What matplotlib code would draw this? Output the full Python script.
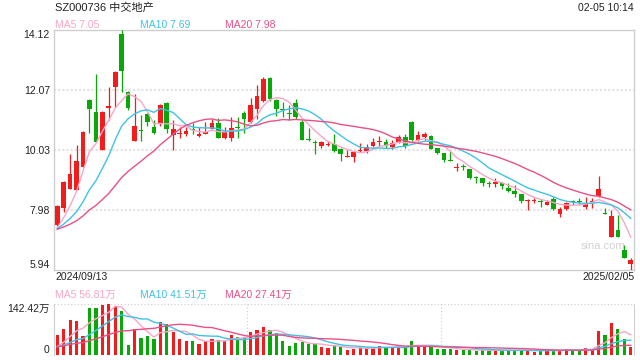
import matplotlib
matplotlib.use('Agg')
import matplotlib.pyplot as plt
import numpy as np
import pandas as pd

plt.rcParams['font.family'] = ['Liberation Sans', 'Noto Sans CJK SC']

# daily OHLC, 2024/09/13 .. 2025/02/05
opens = [7.45, 8.04, 8.70, 8.67, 9.43, 11.72, 11.31, 10.03, 11.45, 12.18,
         13.97, 11.98, 10.34, 10.70, 11.25, 10.79, 10.91, 11.62, 10.52, 10.56,
         10.58, 10.75, 10.50, 10.57, 10.75, 10.93, 10.43, 10.43, 10.78, 11.28,
         10.96, 11.43, 11.70, 12.47, 11.72, 11.40, 11.25, 11.62, 10.97, 10.39,
         10.29, 10.14, 10.19, 10.22, 10.05, 9.79, 9.79, 9.98, 10.00, 10.14,
         10.29, 10.28, 10.12, 10.29, 10.46, 10.96, 10.37, 10.45, 10.48, 10.08,
         9.92, 9.67, 9.40, 9.45, 9.37, 9.07, 9.06, 8.87, 8.87, 8.91,
         8.74, 8.61, 8.51, 8.27, 8.28, 8.29, 8.15, 8.35, 7.85, 8.00,
         8.27, 8.28, 8.09, 8.26, 8.44, 7.85, 7.07, 7.28, 6.62, 6.14]
highs = [8.16, 8.97, 9.88, 10.18, 10.68, 11.77, 12.61, 11.35, 12.16, 12.72,
         14.12, 12.02, 11.93, 11.20, 11.28, 11.05, 11.58, 11.65, 11.04, 10.79,
         10.79, 10.94, 10.82, 10.96, 11.08, 11.10, 10.82, 11.16, 11.16, 11.34,
         11.79, 12.22, 12.51, 12.51, 11.77, 11.65, 11.56, 11.77, 11.04, 10.77,
         10.35, 10.31, 10.33, 10.57, 10.08, 10.03, 10.00, 10.26, 10.22, 10.43,
         10.48, 10.40, 10.35, 10.52, 10.56, 11.00, 10.67, 10.63, 10.52, 10.10,
         9.92, 10.00, 9.57, 9.54, 9.38, 9.14, 9.08, 8.97, 9.05, 8.94,
         8.88, 8.83, 8.52, 8.34, 8.38, 8.36, 8.31, 8.42, 8.07, 8.25,
         8.32, 8.40, 8.43, 8.40, 9.14, 8.04, 7.98, 7.80, 6.78, 6.35]
lows = [7.42, 7.90, 8.68, 8.65, 9.43, 10.60, 10.29, 10.03, 11.05, 11.50,
        12.00, 11.40, 10.32, 10.32, 10.85, 10.58, 10.83, 10.60, 10.02, 10.43,
        10.51, 10.58, 10.46, 10.55, 10.72, 10.43, 10.39, 10.34, 10.43, 10.59,
        10.94, 11.09, 11.65, 11.70, 11.17, 11.13, 11.05, 11.08, 10.37, 10.34,
        9.90, 10.09, 10.16, 9.95, 9.65, 9.79, 9.60, 9.95, 9.92, 10.12,
        10.17, 10.08, 10.06, 10.26, 10.08, 10.33, 10.34, 10.37, 10.04, 9.88,
        9.61, 9.63, 9.29, 9.35, 9.04, 8.89, 8.79, 8.77, 8.76, 8.68,
        8.60, 8.42, 8.23, 7.97, 8.20, 8.06, 8.13, 7.97, 7.74, 7.98,
        8.16, 8.17, 8.01, 8.05, 8.42, 7.83, 7.05, 7.05, 6.33, 5.94]
closes = [8.10, 8.93, 9.20, 9.63, 10.63, 11.43, 10.29, 11.31, 11.52, 12.68,
          12.72, 11.45, 10.83, 10.68, 10.97, 10.60, 11.54, 10.75, 10.74, 10.60,
          10.66, 10.70, 10.56, 10.62, 10.93, 10.43, 10.63, 10.77, 10.76, 11.08,
          11.54, 11.85, 12.44, 11.76, 11.43, 11.38, 11.23, 11.13, 10.37, 10.37,
          10.27, 10.28, 10.23, 9.97, 9.88, 9.82, 9.95, 10.02, 10.12, 10.28,
          10.33, 10.14, 10.26, 10.45, 10.14, 10.37, 10.54, 10.56, 10.06, 9.92,
          9.69, 9.65, 9.45, 9.43, 9.06, 9.05, 8.90, 8.85, 8.93, 8.79,
          8.61, 8.51, 8.27, 8.32, 8.33, 8.26, 8.24, 8.00, 8.01, 8.20,
          8.25, 8.24, 8.17, 8.29, 8.70, 7.83, 7.76, 7.05, 6.35, 6.26]
# volume in 万 shares
volumes = [57, 74, 97, 95, 54, 133, 131, 140, 142.42, 138,
           123, 28, 74, 49, 54, 45, 92, 88, 66, 46,
           38, 40, 31, 38, 45, 43, 40, 57, 50, 50,
           65, 71, 79, 71, 62, 38, 26, 35, 36, 30,
           30, 22, 20, 28, 22, 14, 17, 21, 21, 21,
           25, 21, 21, 28, 21, 40, 25, 24, 27, 17,
           17, 17, 14, 15, 15, 11, 15, 11, 14, 12,
           12.6, 13.6, 13.6, 13.6, 9.6, 11.6, 14.6, 12.6, 14.6, 16.7,
           14.5, 14.5, 19.5, 14.5, 68.05, 54.8, 88.6, 71.8, 45.9, 22.95]
# sessions before the window, only used to seed the moving averages
prior_closes = [7.35, 7.32, 7.30, 7.34, 7.31, 7.28, 7.30, 7.33, 7.29, 7.26,
                7.30, 7.28, 7.31, 7.27, 7.33, 7.20, 7.15, 7.18, 7.19]
prior_volumes = [25, 22, 28, 24, 20, 26, 23, 21, 27, 24,
                 22, 25, 19, 21, 23, 15, 17, 14, 17]

title = 'SZ000736 中交地产'
stamp = '02-05 10:14'
first_date = '2024/09/13'
last_date = '2025/02/05'
price_ticks = [5.94, 7.98, 10.03, 12.07, 14.12]

RED = '#f21c1c'
GREEN = '#08a808'
MA_COLORS = {5: '#f9a6c6', 10: '#3ec3e6', 20: '#ec4f87'}
GRID = '#e2e2e2'
FRAME = '#cfcfcf'


def moving_avg(prior, values, n):
    s = pd.Series(list(prior) + list(values), dtype=float)
    return s.rolling(n).mean().iloc[len(prior):].values


o = np.array(opens)
c = np.array(closes)
x = np.arange(len(c))
colors = np.where(c >= o, RED, GREEN)

fig = plt.figure(figsize=(6.4, 3.6), dpi=100)
ax = fig.add_axes([54 / 640, 1 - 269.7 / 360, 580 / 640, 240 / 360])
axv = fig.add_axes([54 / 640, 1 - 355 / 360, 580 / 640, 50.7 / 360])

# candles
ax.vlines(x, lows, highs, colors=colors, linewidth=0.9, zorder=3)
ax.bar(x, np.maximum(np.abs(c - o), 0.035), bottom=np.minimum(o, c),
       width=0.72, color=colors, linewidth=0, zorder=4)
for n, col in MA_COLORS.items():
    ax.plot(x, moving_avg(prior_closes, closes, n), color=col, lw=1.0, zorder=5)

ax.set_xlim(-0.5, len(c) - 0.5)
ax.set_ylim(price_ticks[0], price_ticks[-1])
ax.set_xticks([])
ax.set_yticks(price_ticks)
ax.set_yticklabels(['%.2f' % t for t in price_ticks], fontsize=7.5, color='#222222')
ax.get_yticklabels()[0].set_va('bottom')
ax.get_yticklabels()[-1].set_va('top')
ax.tick_params(axis='y', length=0, pad=3)
for t in price_ticks[1:-1]:
    ax.axhline(t, color=GRID, lw=1.5, ls=(0, (1, 1)), zorder=1)
for sp in ax.spines.values():
    sp.set_color(FRAME)
    sp.set_linewidth(1.0)
ax.text(0.985, 0.1, 'sina.com', transform=ax.transAxes, ha='right', va='center',
        fontsize=8, color='#d2d2d2', zorder=2)

# volume
v = np.array(volumes, dtype=float)
axv.bar(x, v, width=0.5, color=colors, linewidth=0, zorder=3)
for n, col in MA_COLORS.items():
    axv.plot(x, moving_avg(prior_volumes, volumes, n), color=col, lw=1.0, zorder=4)
axv.set_xlim(-0.5, len(c) - 0.5)
axv.set_ylim(0, v.max())
axv.set_xticks([])
axv.set_yticks([0, v.max()])
axv.set_yticklabels(['0', '%.2f万' % v.max()], fontsize=7.5, color='#222222')
axv.get_yticklabels()[0].set_va('bottom')
axv.get_yticklabels()[1].set_va('top')
axv.tick_params(axis='y', length=0, pad=3)
axv.axhline(v.max(), color='#cccccc', lw=0.8, ls=(0, (1, 2)), zorder=1)
for xv in [len(c) / 3 - 0.5, 2 * len(c) / 3 - 0.5]:
    axv.axvline(xv, color='#cccccc', lw=0.8, ls=(0, (1, 2)), zorder=1)
axv.spines['top'].set_visible(False)
axv.spines['bottom'].set_visible(False)
for side in ['left', 'right']:
    axv.spines[side].set_color(FRAME)

# header / footer texts
fig.text(55 / 640, 1 - 8 / 360, title, fontsize=8, color='#222222', va='center')
fig.text(634 / 640, 1 - 8 / 360, stamp, fontsize=7.5, color='#222222',
         va='center', ha='right')
ma_price = {n: moving_avg(prior_closes, closes, n)[-1] for n in MA_COLORS}
ma_vol = {n: moving_avg(prior_volumes, volumes, n)[-1] for n in MA_COLORS}
for n, px in zip(MA_COLORS, [55, 140, 225]):
    fig.text(px / 640, 1 - 24.5 / 360, 'MA%d %.2f' % (n, ma_price[n]),
             fontsize=7.5, color=MA_COLORS[n], va='center')
    fig.text(px / 640, 1 - 294.5 / 360, 'MA%d %.2f万' % (n, ma_vol[n]),
             fontsize=7.5, color=MA_COLORS[n], va='center')
fig.text(55 / 640, 1 - 277.5 / 360, first_date, fontsize=7.5, color='#222222', va='center')
fig.text(635 / 640, 1 - 277.5 / 360, last_date, fontsize=7.5, color='#222222',
         va='center', ha='right')

fig.savefig('out.png', dpi=100)
